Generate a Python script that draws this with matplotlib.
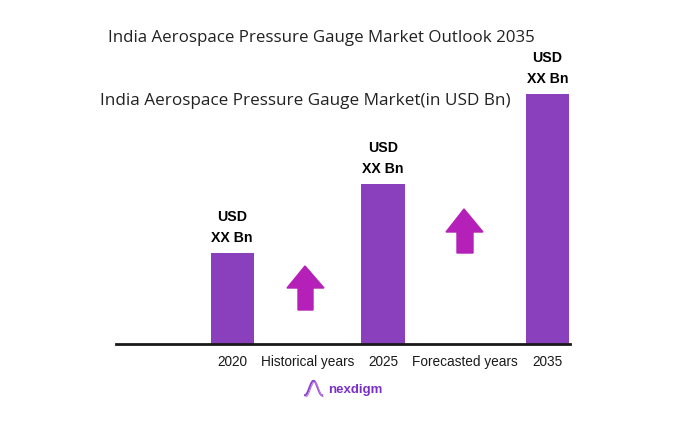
import matplotlib.pyplot as plt
import numpy as np
from matplotlib.patches import Polygon
from matplotlib.transforms import Affine2D

# data (values are placeholders "XX Bn" in the source, heights)
years = ["2020", "2025", "2035"]
values = [0.91, 1.60, 2.50]
bar_labels = ["USD\nXX Bn", "USD\nXX Bn", "USD\nXX Bn"]
period_labels = ["Historical years", "Forecasted years"]

bar_color = "#8a40bd"
arrow_color = "#b420b8"
W, H = 688, 424

fig = plt.figure(figsize=(W / 100, H / 100), dpi=100)
fig.patch.set_facecolor("white")

# pixel coords (top-left origin) -> figure
px = Affine2D().scale(1 / 100, -1 / 100).translate(0, H / 100) + fig.dpi_scale_trans

# axes: baseline at y=344px, 100px per unit
left, right, base, top = 116, 570, 344, 44
ax = fig.add_axes([left / W, 1 - base / H, (right - left) / W, (base - top) / H])
xpos = np.array([0, 1, 2.09])
ax.bar(xpos, values, width=0.286, color=bar_color, zorder=2)
ax.set_xlim(-0.77, 2.24)
ax.set_ylim(0, 3.0)
for s in ["top", "right", "left"]:
    ax.spines[s].set_visible(False)
ax.spines["bottom"].set_linewidth(2)
ax.spines["bottom"].set_color("#1a1a1a")
ax.set_yticks([])
ax.set_xticks(list(xpos) + [0.5, 1.545])
ax.set_xticklabels(years + period_labels, fontsize=9.8, family="Liberation Sans",
                   color="#1a1a1a")
ax.tick_params(axis="x", length=0, pad=8)
ax.patch.set_alpha(0)

for x, v, lab in zip(xpos, values, bar_labels):
    ax.text(x, v + 0.08, lab, ha="center", va="bottom", fontsize=10.2,
            fontweight="bold", family="Liberation Sans", linespacing=1.6)

fig.text(108 / W, 1 - 38 / H, "India Aerospace Pressure Gauge Market Outlook 2035",
         fontsize=12.2, family="Open Sans", va="center", ha="left", color="#222222")
fig.text(100 / W, 1 - 101 / H, "India Aerospace Pressure Gauge Market(in USD Bn)",
         fontsize=12.3, family="Open Sans", va="center", ha="left", color="#222222")

# up arrows
def up_arrow(tip, hy, hl, hr, sl, sr, bot):
    pts = [(tip[0], tip[1]), (hr, hy), (sr, hy), (sr, bot), (sl, bot), (sl, hy), (hl, hy)]
    fig.patches.append(Polygon(pts, closed=True, transform=px, color=arrow_color))

up_arrow((305, 266), 288, 287, 324, 298, 313, 310)
up_arrow((464, 209), 232, 446, 483, 457, 473, 253)

# logo
t = np.linspace(0, 1, 60)
lx = 305 + 17 * t
ly = 388 - 8 * np.sin(2 * np.pi * (t - 0.25)) * 0.9
fig.add_artist(plt.Line2D(lx, ly, transform=px, color="#8a40d0", lw=1.4))
fig.add_artist(plt.Line2D(lx + 1, ly + 1.5, transform=px, color="#c080e0", lw=0.8))
fig.text(328 / W, 1 - 390 / H, "nexdigm", fontsize=9.5, fontweight="bold",
         family="Liberation Sans", color="#7a30c8", va="center", ha="left")

plt.savefig("out.png", dpi=100)
